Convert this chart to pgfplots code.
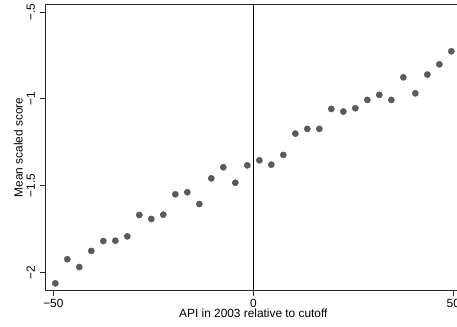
\documentclass[border=0pt]{standalone}
\usepackage{pgfplots}
\pgfplotsset{compat=1.18}
\usepackage{fontspec}
\setmainfont{Liberation Sans}
\definecolor{pt}{HTML}{5A5A5A}
\begin{document}
\begin{tikzpicture}[x=1pt,y=1pt]
\begin{axis}[
  scale only axis,
  width=312.5pt, height=214.8pt,
  xmin=-52.08, xmax=52.08,
  ymin=-2.106, ymax=-0.456,
  axis line style={line width=0.6pt, black!85},
  xtick={-50,0,50}, xticklabels={−50,0,50},
  ytick={-2,-1.5,-1,-0.5}, yticklabels={−2,−1.5,−1,−.5},
  xtick pos=bottom, ytick pos=left,
  tick align=outside,
  major tick length=4pt,
  tick style={line width=0.6pt, black!85},
  /pgf/number format/assume math mode=true,
  tick label style={font=\fontsize{8.9}{10}\selectfont},
  label style={font=\fontsize{8.9}{10}\selectfont},
  xticklabel style={yshift=1pt},
  yticklabel style={rotate=90, anchor=south, xshift=0pt},
  xlabel={API in 2003 relative to cutoff},
  ylabel={Mean scaled score},
  xlabel style={yshift=6pt},
  ylabel style={yshift=-4pt},
  clip=false,
]
\addplot[only marks, mark=*, mark size=2.3pt, color=pt, mark options={draw=pt, fill=pt}] coordinates {
(-49.5,-2.064) (-46.5,-1.925) (-43.5,-1.970) (-40.5,-1.877) (-37.5,-1.820)
(-34.5,-1.818) (-31.5,-1.793) (-28.5,-1.670) (-25.5,-1.693) (-22.5,-1.668)
(-19.5,-1.551) (-16.5,-1.539) (-13.5,-1.607) (-10.5,-1.459) (-7.5,-1.395)
(-4.5,-1.484) (-1.5,-1.384)
(1.5,-1.355) (4.5,-1.380) (7.5,-1.324) (10.5,-1.201) (13.5,-1.174)
(16.5,-1.174) (19.5,-1.059) (22.5,-1.074) (25.5,-1.055) (28.5,-1.007)
(31.5,-0.978) (34.5,-1.007) (37.5,-0.877) (40.5,-0.969) (43.5,-0.861)
(46.5,-0.802) (49.5,-0.727)
};
\draw[line width=0.6pt, black] (axis cs:0,-2.106) -- (axis cs:0,-0.456);
\coordinate (SW) at (rel axis cs:0,0);
\end{axis}
\pgfresetboundingbox
\path[use as bounding box] ([shift={(-33.75pt,-26.5pt)}]SW) rectangle ([shift={(309pt,218pt)}]SW);
\end{tikzpicture}
\end{document}
